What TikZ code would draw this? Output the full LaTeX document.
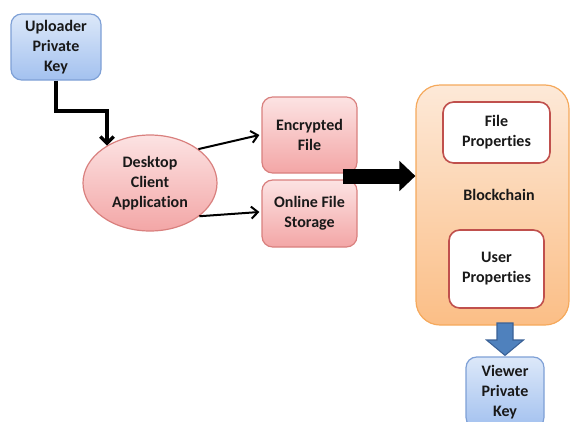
\documentclass[tikz,border=0pt]{standalone}
\usepackage{fontspec}
\setmainfont{Carlito}[Ligatures=NoCommon]
\usetikzlibrary{arrows.meta,shapes.geometric,calc}
\definecolor{bluetop}{HTML}{DCE8F9}
\definecolor{bluebot}{HTML}{A3C1EF}
\definecolor{blueedge}{HTML}{7EA0D6}
\definecolor{pinktop}{HTML}{FCE3E3}
\definecolor{pinkbot}{HTML}{F3A6A6}
\definecolor{pinkedge}{HTML}{D9807E}
\definecolor{orangetop}{HTML}{FDE9D8}
\definecolor{orangebot}{HTML}{FBBE86}
\definecolor{orangeedge}{HTML}{F5A95C}
\definecolor{rededge}{HTML}{C0504D}
\definecolor{arrowblue}{HTML}{4F81BD}
\definecolor{arrowblueedge}{HTML}{3A6196}
\begin{document}
\begin{tikzpicture}[x=0.75pt,y=-0.75pt,
  lbl/.style={font=\fontsize{12}{15}\selectfont\bfseries, align=center, text=black!90},
  keybox/.style={lbl, draw=blueedge, line width=0.9pt, rounded corners=8pt, top color=bluetop, bottom color=bluebot, inner sep=0pt},
  pinkbox/.style={lbl, draw=pinkedge, line width=0.9pt, rounded corners=8pt, top color=pinktop, bottom color=pinkbot, inner sep=0pt},
  propbox/.style={lbl, draw=rededge, line width=1.2pt, rounded corners=8pt, fill=white, inner sep=0pt},
  thinarrow/.style={draw=black, line width=1.5pt, -{Straight Barb[length=5pt,width=9pt]}},
]
\useasboundingbox (0,0) rectangle (570,421);

\node[keybox, minimum width=67.5pt, minimum height=49.5pt] (up) at (56,47) {Uploader\\Private\\Key};

\node[lbl, ellipse, draw=pinkedge, line width=0.9pt, top color=pinktop, bottom color=pinkbot, minimum width=100.5pt, minimum height=72pt, inner sep=0pt] (ell) at (150,183) {Desktop\\Client\\Application};

\node[pinkbox, minimum width=71.25pt, minimum height=57pt] (enc) at (309.5,135) {Encrypted\\File};
\node[pinkbox, minimum width=71.25pt, minimum height=50.25pt] (onl) at (309.5,213.5) {Online File\\Storage};

\node[draw=orangeedge, line width=0.9pt, rounded corners=18pt, top color=orangetop, bottom color=orangebot, minimum width=114.75pt, minimum height=180pt, inner sep=0pt] (blk) at (492.5,205) {};
\node[lbl] (blkt) at (499,195) {Blockchain};
\node[propbox, minimum width=80.25pt, minimum height=45.75pt] (fp) at (496.5,132.5) {File\\Properties};
\node[propbox, minimum width=71.25pt, minimum height=58.5pt] (uprop) at (496.5,269) {User\\Properties};

\node[keybox, minimum width=58.5pt, minimum height=53.25pt] (view) at (505,392.5) {Viewer\\Private\\Key};

% connectors
\coordinate (bend) at (107,111);
\draw[draw=black, line width=2.5pt, -{Straight Barb[length=5pt,width=10pt]}] (up.south) |- (bend) -- (bend |- ell.139);
\draw[thinarrow] (ell.35) -- ($(enc.west)+(-2,0)$);
\draw[thinarrow] (ell.-34) -- ($(onl.west)+(-2,-1.5)$);

% big black arrow
\coordinate (bs) at (343,176);
\draw[line width=11.25pt, -{Triangle[length=12pt,width=22pt]}] (bs) -- (bs -| blk.west);

% blue down arrow
\coordinate (da) at (505,323);
\filldraw[fill=arrowblue, draw=arrowblueedge, line width=0.8pt]
  ($(da)+(-8,0)$) -- ($(da)+(8,0)$) -- ($(da)+(8,17)$) -- ($(da)+(18.5,17)$) -- ($(view.north)+(0,-1)$) -- ($(da)+(-18.5,17)$) -- ($(da)+(-8,17)$) -- cycle;
\end{tikzpicture}
\end{document}
